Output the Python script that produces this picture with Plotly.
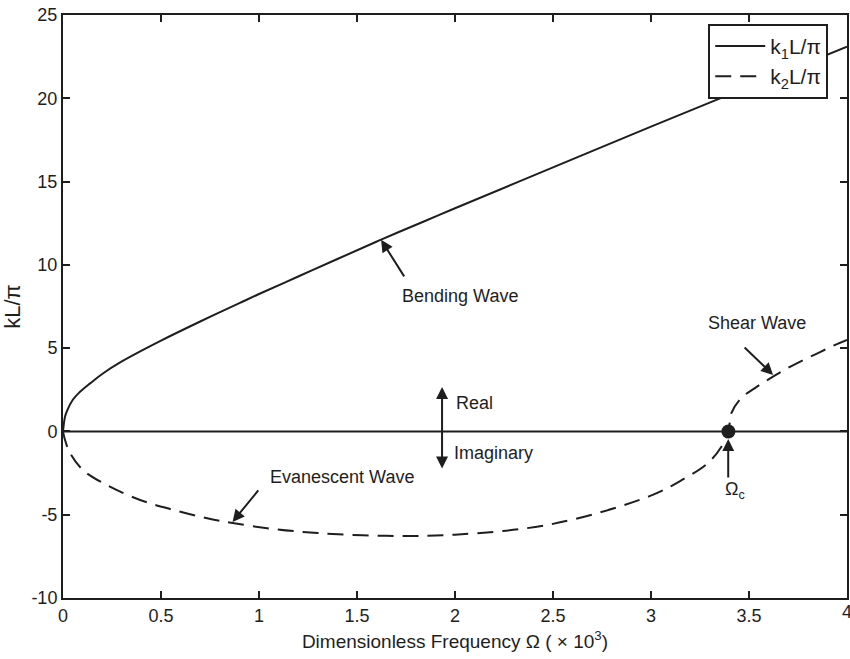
import plotly.graph_objects as go

# k1 L/pi (bending wave, real)
k1_x = [0, 0.01, 0.02, 0.05, 0.08, 0.14, 0.2, 0.3, 0.5, 0.7, 0.9, 1.0, 1.2, 1.4, 1.62, 1.85, 2.0, 2.5, 3.0, 3.5, 4.0]
k1_y = [0, 0.87, 1.22, 1.9, 2.3, 2.9, 3.45, 4.2, 5.45, 6.6, 7.7, 8.25, 9.3, 10.35, 11.5, 12.65, 13.4, 15.85, 18.3, 20.7, 23.1]

# k2 L/pi (evanescent below cut-off shown negative, shear wave above)
k2_x = [0, 0.01, 0.036, 0.1, 0.22, 0.39, 0.56, 0.73, 0.865, 1.07, 1.3, 1.65, 2.0, 2.5, 2.99,
        3.16, 3.29, 3.36, 3.395, 3.41, 3.46, 3.53, 3.61, 3.69, 3.78, 3.86, 3.94, 4.0]
k2_y = [0, -0.5, -1.3, -2.3, -3.2, -4.1, -4.7, -5.2, -5.5, -5.85, -6.1, -6.27, -6.2, -5.55, -3.9,
        -2.9, -1.9, -0.9, 0, 1.1, 2.0, 2.6, 3.2, 3.75, 4.3, 4.75, 5.2, 5.5]

zero_x = [0, 4]
zero_y = [0, 0]

omega_c_x = [3.395]
omega_c_y = [0]

x_ticks = [0, 0.5, 1, 1.5, 2, 2.5, 3, 3.5, 4]
x_labels = ["0", "0.5", "1", "1.5", "2", "2.5", "3", "3.5", "4"]
y_ticks = [-10, -5, 0, 5, 10, 15, 20, 25]
y_labels = ["-10", "-5", "0", "5", "10", "15", "20", "25"]

INK = "#1e1e1e"
FONT = "Liberation Sans, Arial, sans-serif"

fig = go.Figure()
fig.add_trace(go.Scatter(x=zero_x, y=zero_y, mode="lines", showlegend=False,
                         line=dict(color=INK, width=2), hoverinfo="skip"))
fig.add_trace(go.Scatter(x=k1_x, y=k1_y, mode="lines", name="k<sub>1</sub>L/π",
                         line=dict(color=INK, width=2, shape="spline", smoothing=1.0)))
fig.add_trace(go.Scatter(x=k2_x, y=k2_y, mode="lines", name="k<sub>2</sub>L/π",
                         line=dict(color=INK, width=2, dash="16px,9px", shape="spline", smoothing=1.0)))
fig.add_trace(go.Scatter(x=omega_c_x, y=omega_c_y, mode="markers", showlegend=False,
                         marker=dict(color=INK, size=14)))

def arrow(x, y, ax, ay, side="end"):
    fig.add_annotation(x=x, y=y, ax=ax, ay=ay, text="", showarrow=True,
                       arrowhead=2, arrowsize=1.2, arrowwidth=2, arrowcolor=INK,
                       arrowside=side)

def label(x, y, text, xanchor="center"):
    fig.add_annotation(x=x, y=y, text=text, showarrow=False, xanchor=xanchor,
                       yanchor="middle", font=dict(size=18, color=INK, family=FONT))

arrow(1.623, 11.5, 24, 38)
label(2.025, 8.13, "Bending Wave")
arrow(1.934, 2.67, 0, 83, side="end+start")
label(1.995, 1.71, "Real", xanchor="left")
label(1.985, -1.29, "Imaginary", xanchor="left")
arrow(0.865, -5.43, 27, -33)
label(1.425, -2.73, "Evanescent Wave")
arrow(3.623, 3.39, -30, -29)
label(3.54, 6.5, "Shear Wave")
arrow(3.394, -0.45, 0, 40)
label(3.43, -3.55, "Ω<sub>c</sub>")

# last x tick label sits on the figure edge (partly cut, as in the reference)
fig.add_annotation(x=x_ticks[-1], y=0, yref="paper", text=x_labels[-1], showarrow=False,
                   xanchor="center", yanchor="top", yshift=-2,
                   font=dict(size=18, color=INK, family=FONT))

fig.update_layout(
    width=850, height=659,
    margin=dict(l=63, r=1, t=15, b=61),
    paper_bgcolor="white", plot_bgcolor="white",
    font=dict(family=FONT, size=18, color=INK),
    legend=dict(x=0.823, y=0.985, xanchor="left", yanchor="top",
                bgcolor="white", bordercolor=INK, borderwidth=2,
                itemwidth=50, tracegroupgap=0,
                font=dict(size=21, color=INK)),
    xaxis=dict(range=[0, 4], tickvals=x_ticks, ticktext=x_labels,
               ticks="inside", ticklen=7, tickwidth=2, tickcolor=INK,
               showline=True, linewidth=2, linecolor=INK, mirror="ticks",
               showgrid=False, zeroline=False,
               title=dict(text="Dimensionless Frequency Ω ( × 10<sup>3</sup>)", standoff=10,
                          font=dict(size=19))),
    yaxis=dict(range=[-10, 25], tickvals=y_ticks, ticktext=y_labels,
               ticks="inside", ticklen=7, tickwidth=2, tickcolor=INK,
               showline=True, linewidth=2, linecolor=INK, mirror="ticks",
               showgrid=False, zeroline=False,
               title=dict(text="kL/π", standoff=8)),
)

fig.write_html("out.html")
